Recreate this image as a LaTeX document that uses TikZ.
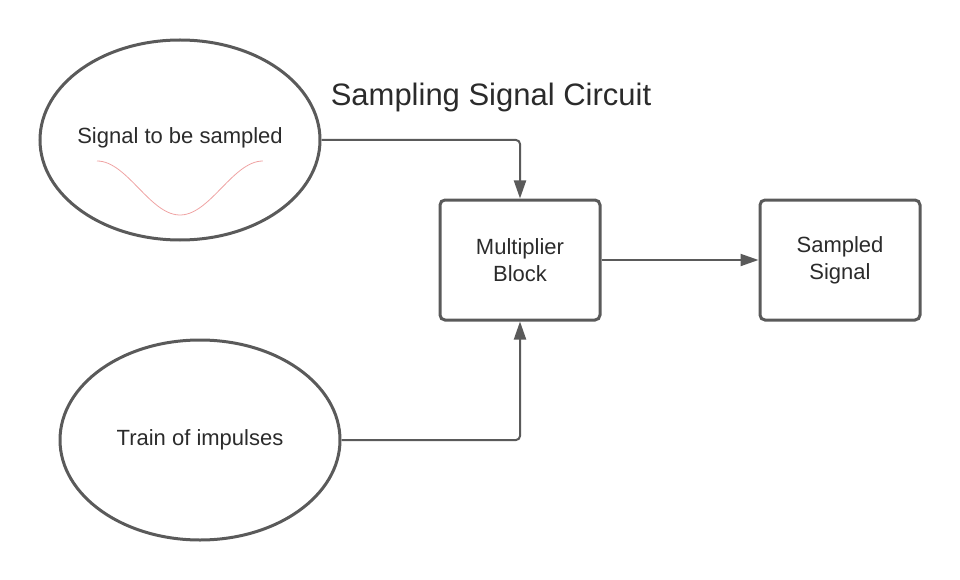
\documentclass[tikz,border=0pt]{standalone}
\usepackage{fontspec}
\setmainfont{Liberation Sans}
\usepackage{xcolor}
\usetikzlibrary{shapes.geometric}
\usetikzlibrary{arrows.meta}
\definecolor{linegray}{HTML}{5A5A5A}
\definecolor{textgray}{HTML}{2B2B2B}
\definecolor{wavered}{HTML}{EFA3A3}

\begin{document}
\begin{tikzpicture}[x=1pt,y=-1pt,
    oval/.style={ellipse,draw=linegray,line width=3pt,minimum width=280pt,minimum height=200pt,inner sep=0pt},
    blockbox/.style={rectangle,rounded corners=5pt,draw=linegray,line width=3pt,minimum width=160pt,minimum height=120pt,align=center},
    conn/.style={draw=linegray,line width=2pt,rounded corners=4pt,-{Triangle[length=18pt,width=12pt]}},
    font=\fontsize{22}{27}\selectfont,text=textgray]
        \useasboundingbox (0,0) rectangle (960,580);

        %%% SHAPES %%%
        \node[oval] (sig) at (180,140) {};
        \node[textgray] (siglabel) at (180,138) {Signal to be sampled};
        \node[oval] (train) at (200,440) {Train of impulses};
        \node[blockbox] (mult) at (520,260) {Multiplier\\Block};
        \node[blockbox] (out) at (840,260) {Sampled\\Signal};
        \node[font=\fontsize{31}{36}\selectfont] (title) at (491,97) {Sampling Signal Circuit};

        %%% WAVE %%%
        \draw[wavered,line width=0.8pt] plot[domain=0:1,samples=60,smooth] ({97+166*\x},{188-27*cos(360*\x)});

        %%% CONNECTORS %%%
        \draw[conn] (sig.east) -| (mult.north);
        \draw[conn] (train.east) -| (mult.south);
        \draw[conn] (mult.east) -- (out.west);
    \end{tikzpicture}
\end{document}
